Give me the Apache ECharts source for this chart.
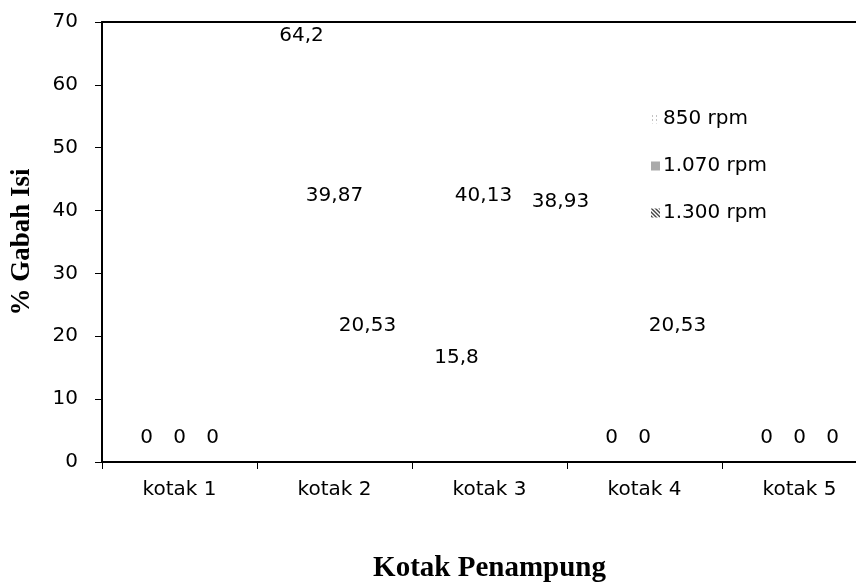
<!DOCTYPE html>
<html><head><meta charset="utf-8">
<script src="https://cdn.jsdelivr.net/npm/echarts@6/dist/echarts.min.js"></script>
<style>html,body{margin:0;padding:0;background:#fff}#c{width:856px;height:583px}</style>
</head><body><div id="c"></div>
<script>
var categories = ['kotak 1','kotak 2','kotak 3','kotak 4','kotak 5'];
var seriesNames = ['850 rpm','1.070 rpm','1.300 rpm'];
var rpm850  = [0, 64.2, 15.8, 0, 0];
var rpm1070 = [0, 39.87, 40.13, 0, 0];
var rpm1300 = [0, 20.53, 38.93, 20.53, 0];
var yTicks = [0,10,20,30,40,50,60,70];

// label nudges (layout only), per series per category: [dx, dy]
var labelNudge = [
  [[0,-10],[0,-9],[0,9],[0,-10],[0,-10]],
  [[0,-10],[0,-2],[-6,0],[0,-10],[0,-10]],
  [[0,-10],[0,7],[38,-2],[0,7],[0,-10]]
];

function pattern(kind){
  var c=document.createElement('canvas'); c.width=4; c.height=4;
  var g=c.getContext('2d'); g.fillStyle='#fff'; g.fillRect(0,0,4,4);
  if(kind===0){ g.fillStyle='#888'; g.fillRect(1,1,1,1); }
  else if(kind===1){ g.fillStyle='#555'; g.fillRect(0,0,1,1); g.fillRect(2,0,1,1); g.fillRect(1,1,1,1); g.fillRect(3,1,1,1); g.fillRect(0,2,1,1); g.fillRect(2,2,1,1); g.fillRect(1,3,1,1); g.fillRect(3,3,1,1);}
  else { g.fillStyle='#444'; for(var i=0;i<4;i++){ g.fillRect(i,i,1,1); g.fillRect((i+1)%4,i,1,1);} }
  return {image:c, repeat:'repeat'};
}

var font = 'DejaVu Sans';
var fs = 20;
var dataSets = [rpm850, rpm1070, rpm1300];
var series = dataSets.map(function(arr, si){
  return {
    name: seriesNames[si], type:'bar', barWidth:33, barGap:'0%',
    itemStyle:{color:'rgba(0,0,0,0)'},
    data: arr.map(function(v, ci){
      return {value:v, label:{offset:labelNudge[si][ci]}};
    }),
    label:{show:true, position:'top', distance:4, color:'#000', fontFamily:font, fontSize:fs,
      formatter:function(p){ return String(p.value).replace('.',','); }}
  };
});

var chart = echarts.init(document.getElementById('c'), null, {renderer:'canvas'});
chart.setOption({
  animation:false,
  backgroundColor:'#fff',
  grid:{left:102, width:775, top:22, height:440, outerBoundsMode:'none', containLabel:false},
  legend:{
    orient:'vertical', left:646, top:104, itemWidth:9, itemHeight:9, itemGap:27,
    textStyle:{fontFamily:font, fontSize:fs, color:'#000', padding:[0,0,0,-2]},
    data: seriesNames.map(function(n,i){ return {name:n, icon:'rect', itemStyle:{color:pattern(i)}}; })
  },
  xAxis:[{
    type:'category', data:categories, position:'bottom',
    axisLine:{lineStyle:{color:'#000', width:2}},
    axisTick:{show:true, length:7, lineStyle:{color:'#000', width:1}},
    axisLabel:{color:'#000', fontFamily:font, fontSize:fs, margin:18},
    name:'Kotak Penampung', nameLocation:'middle', nameGap:92,
    nameTextStyle:{fontFamily:'Liberation Serif', fontWeight:'bold', fontSize:29, color:'#000'}
  },{
    type:'category', data:categories, position:'top',
    axisLine:{lineStyle:{color:'#000', width:2}},
    axisTick:{show:false}, axisLabel:{show:false}
  }],
  yAxis:{
    type:'value', min:0, max:70, interval:10,
    axisLine:{show:true, lineStyle:{color:'#000', width:2}},
    axisTick:{show:true, length:7, lineStyle:{color:'#000'}},
    splitLine:{show:false},
    axisLabel:{color:'#000', fontFamily:font, fontSize:fs, margin:24,
      formatter:function(v){ return yTicks.indexOf(v)>=0 ? String(v) : ''; }},
    name:'% Gabah Isi', nameLocation:'middle', nameGap:66, nameRotate:90,
    nameTextStyle:{fontFamily:'Liberation Serif', fontWeight:'bold', fontSize:27, color:'#000'}
  },
  series: series
});
</script></body></html>
